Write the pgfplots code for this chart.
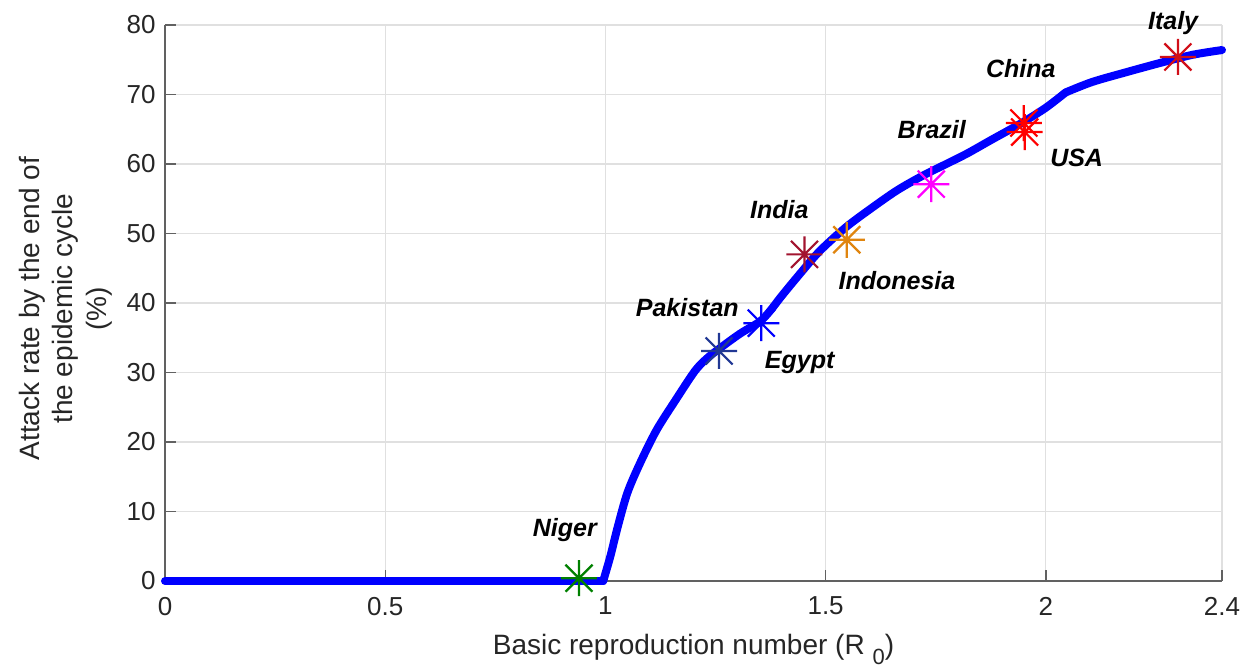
\documentclass[border=0pt]{standalone}
\usepackage{fontspec}
\setmainfont{Liberation Sans}
\usepackage{pgfplots}
\pgfplotsset{compat=1.18}
\definecolor{axgray}{gray}{0.38}
\definecolor{txtgray}{gray}{0.15}
\definecolor{gridgray}{gray}{0.88}
\definecolor{cNiger}{rgb}{0,0.5,0}
\definecolor{cPak}{rgb}{0.13,0.22,0.58}
\definecolor{cEgy}{rgb}{0,0,1}
\definecolor{cInd}{rgb}{0.635,0.078,0.184}
\definecolor{cIdn}{rgb}{0.88,0.52,0.06}
\definecolor{cBra}{rgb}{1,0,1}
\definecolor{cRed}{rgb}{1,0,0}
\definecolor{cIta}{rgb}{0.82,0.06,0.1}
\pgfdeclareplotmark{ast8}{%
  \pgfpathmoveto{\pgfqpoint{-\pgfplotmarksize}{0pt}}%
  \pgfpathlineto{\pgfqpoint{\pgfplotmarksize}{0pt}}%
  \pgfpathmoveto{\pgfqpoint{0pt}{-\pgfplotmarksize}}%
  \pgfpathlineto{\pgfqpoint{0pt}{\pgfplotmarksize}}%
  \pgfpathmoveto{\pgfqpoint{-0.75\pgfplotmarksize}{-0.75\pgfplotmarksize}}%
  \pgfpathlineto{\pgfqpoint{0.75\pgfplotmarksize}{0.75\pgfplotmarksize}}%
  \pgfpathmoveto{\pgfqpoint{-0.75\pgfplotmarksize}{0.75\pgfplotmarksize}}%
  \pgfpathlineto{\pgfqpoint{0.75\pgfplotmarksize}{-0.75\pgfplotmarksize}}%
  \pgfusepathqstroke}
\newcommand{\cl}{\fontsize{12.5}{15}\selectfont\bfseries\itshape}
\pgfplotsset{country/.style={only marks, mark=ast8, mark size=9pt, line width=1.1pt},
  curve/.style={color=cEgy, line width=4pt, line join=round, line cap=round, mark=none}}
\begin{document}
\begin{tikzpicture}
\begin{axis}[
  scale only axis, width=528.5pt, height=278pt,
  at={(0,0)}, anchor=south west,
  xmin=0, xmax=2.4, ymin=0, ymax=80,
  xtick={0,0.5,1,1.5,2,2.4},
  xticklabels={0,0.5,1,1.5,2,2.4},
  ytick={0,10,20,30,40,50,60,70,80},
  axis lines*=left,
  axis line style={-, draw=axgray, line width=0.7pt},
  tick style={draw=axgray, line width=0.7pt},
  major tick length=5.5pt,
  tick align=inside,
  grid=major,
  major grid style={draw=gridgray, line width=0.6pt},
  /pgf/number format/assume math mode=true,
  ticklabel style={font=\fontsize{13}{15}\selectfont, text=txtgray},
  xticklabel style={yshift=-4.5pt},
  yticklabel style={xshift=-1.2pt},
  xlabel={Basic reproduction number (R \raisebox{-0.35em}{\fontsize{11}{11}\selectfont 0})},
  ylabel={Attack rate by the end of\\the epidemic cycle\\(\%)},
  label style={font=\fontsize{14}{16.75}\selectfont, text=txtgray},
  xlabel style={at={(axis description cs:0.5,0)}, anchor=base, yshift=-37pt},
  ylabel style={at={(axis description cs:-0.094,0.49)}, anchor=center, align=center},
  clip=false,
]
\addplot[curve] coordinates {(0,0) (0.995,0)};
\addplot[curve, smooth, tension=0.5] coordinates {
(0.995,0) (1.011,3.5) (1.028,7.8) (1.05,12.7) (1.079,17) (1.116,21.7)
(1.159,26) (1.203,30.2) (1.23,32.0) (1.258,33.4) (1.306,35.6) (1.35,37.3)
(1.373,38.8) (1.40,41.0) (1.443,44.3) (1.487,47.5) (1.546,50.9) (1.603,53.6)
(1.662,56.2) (1.72,58.3) (1.777,60.1) (1.821,61.5) (1.877,63.5) (1.945,65.9)
(2.0,68.1) (2.045,70.3)
};
\addplot[curve, smooth, tension=0.5] coordinates {
(2.045,70.3) (2.105,71.8) (2.182,73.2) (2.257,74.5) (2.332,75.7) (2.4,76.4)
};
\addplot[country, color=cNiger] coordinates {(0.94,0.4)};
\addplot[country, color=cPak] coordinates {(1.258,33.1)};
\addplot[country, color=cEgy] coordinates {(1.354,37.1)};
\addplot[country, color=cInd] coordinates {(1.452,47.0)};
\addplot[country, color=cIdn] coordinates {(1.548,49.1)};
\addplot[country, color=cBra] coordinates {(1.740,57.1)};
\addplot[country, color=cRed] coordinates {(1.95,65.9)};
\addplot[country, color=cRed] coordinates {(1.952,64.6)};
\addplot[country, color=cIta] coordinates {(2.30,75.4)};
\node[font=\cl] at (axis cs:0.908,7.3) {Niger};
\node[font=\cl] at (axis cs:1.186,39.4) {Pakistan};
\node[font=\cl] at (axis cs:1.441,31.5) {Egypt};
\node[font=\cl] at (axis cs:1.395,53.4) {India};
\node[font=\cl] at (axis cs:1.662,43.3) {Indonesia};
\node[font=\cl] at (axis cs:1.741,64.9) {Brazil};
\node[font=\cl] at (axis cs:1.943,73.8) {China};
\node[font=\cl] at (axis cs:2.07,60.9) {USA};
\node[font=\cl] at (axis cs:2.289,80.3) {Italy};
\end{axis}
\pgfresetboundingbox
\path[use as bounding box] (-82.5pt,-44pt) rectangle (542pt,290.5pt);
\end{tikzpicture}
\end{document}
